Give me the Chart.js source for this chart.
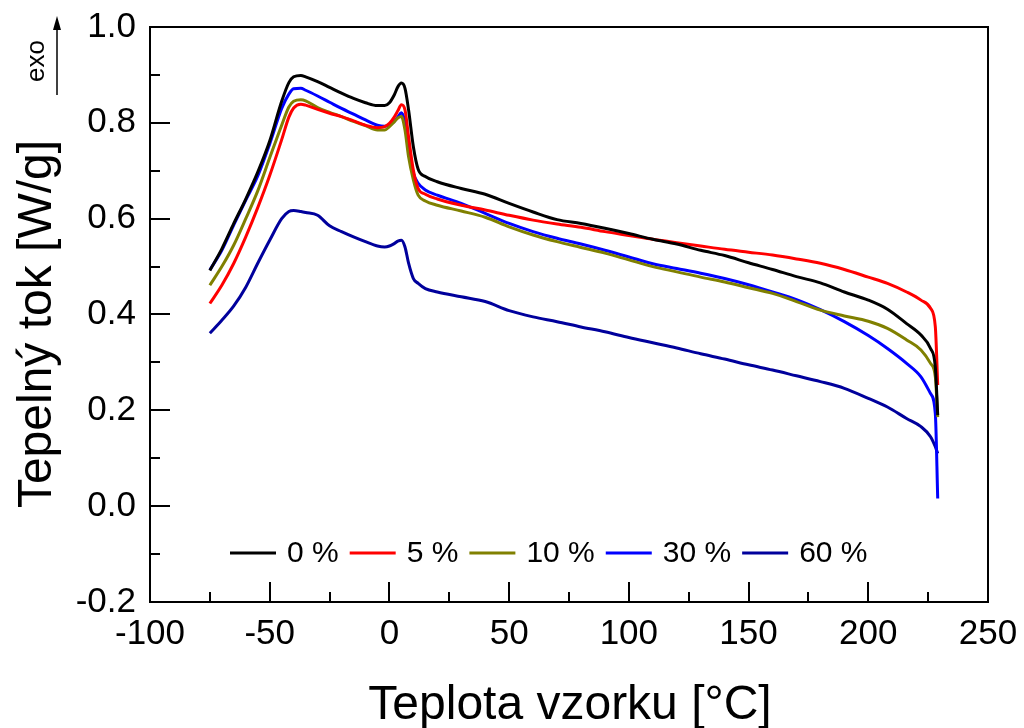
<!DOCTYPE html>
<html>
<head>
<meta charset="utf-8">
<title>DSC</title>
<script src="https://cdn.jsdelivr.net/npm/chart.js@4.4.0/dist/chart.umd.min.js"></script>
<style>
    html, body { margin: 0; padding: 0; background: #fff; }
    canvas { display: block; }
</style>
</head>
<body>
<canvas id="dscChart" width="1024" height="728"></canvas>
<script>
// Temperature grid [°C]
const temps = [-75, -70, -65, -60, -55, -50, -45, -42, -40, -37, -35, -30, -25, -20, -15, -10, -5, -2, 0, 2, 3.5, 5, 6.5, 8, 10, 12, 15, 20, 30, 40, 50, 60, 70, 80, 90, 100, 110, 120, 130, 140, 150, 160, 170, 180, 190, 200, 208, 216, 222, 226, 228, 229];

// Heat flow [W/g]
const flow0 = [0.492, 0.537, 0.590, 0.641, 0.697, 0.762, 0.845, 0.884, 0.896, 0.899, 0.896, 0.886, 0.874, 0.862, 0.851, 0.842, 0.836, 0.836, 0.842, 0.858, 0.875, 0.883, 0.872, 0.827, 0.750, 0.703, 0.688, 0.677, 0.663, 0.651, 0.632, 0.614, 0.598, 0.590, 0.580, 0.569, 0.557, 0.547, 0.534, 0.523, 0.508, 0.494, 0.479, 0.466, 0.447, 0.430, 0.411, 0.381, 0.357, 0.329, 0.290, 0.190];
const flow5 = [0.423, 0.461, 0.507, 0.562, 0.623, 0.690, 0.765, 0.812, 0.831, 0.839, 0.837, 0.828, 0.820, 0.813, 0.804, 0.795, 0.790, 0.792, 0.799, 0.812, 0.825, 0.838, 0.827, 0.771, 0.701, 0.663, 0.651, 0.641, 0.628, 0.618, 0.607, 0.597, 0.589, 0.582, 0.573, 0.565, 0.557, 0.550, 0.543, 0.536, 0.530, 0.524, 0.516, 0.507, 0.494, 0.478, 0.465, 0.447, 0.430, 0.413, 0.374, 0.253];
const flow10 = [0.461, 0.500, 0.545, 0.600, 0.658, 0.727, 0.795, 0.833, 0.845, 0.848, 0.846, 0.832, 0.822, 0.813, 0.803, 0.794, 0.785, 0.785, 0.792, 0.802, 0.810, 0.813, 0.785, 0.729, 0.681, 0.649, 0.637, 0.628, 0.616, 0.603, 0.583, 0.566, 0.552, 0.540, 0.528, 0.514, 0.500, 0.489, 0.478, 0.468, 0.456, 0.444, 0.427, 0.409, 0.397, 0.386, 0.371, 0.347, 0.326, 0.298, 0.270, 0.186];
const flow30 = [0.493, 0.534, 0.587, 0.639, 0.689, 0.756, 0.830, 0.860, 0.871, 0.872, 0.868, 0.856, 0.843, 0.830, 0.818, 0.806, 0.795, 0.793, 0.795, 0.803, 0.812, 0.821, 0.802, 0.750, 0.695, 0.674, 0.660, 0.649, 0.632, 0.611, 0.590, 0.573, 0.559, 0.547, 0.534, 0.520, 0.506, 0.496, 0.486, 0.475, 0.462, 0.447, 0.431, 0.410, 0.385, 0.356, 0.329, 0.298, 0.270, 0.235, 0.193, 0.016];
const flow60 = [0.361, 0.388, 0.418, 0.457, 0.507, 0.555, 0.600, 0.615, 0.617, 0.615, 0.613, 0.607, 0.585, 0.573, 0.562, 0.552, 0.543, 0.541, 0.543, 0.548, 0.553, 0.555, 0.541, 0.507, 0.475, 0.465, 0.454, 0.447, 0.437, 0.427, 0.408, 0.395, 0.385, 0.374, 0.364, 0.352, 0.341, 0.330, 0.318, 0.307, 0.295, 0.284, 0.272, 0.260, 0.246, 0.225, 0.207, 0.183, 0.166, 0.145, 0.124, 0.110];

const seriesLabels = ['0 %', '5 %', '10 %', '30 %', '60 %'];
const seriesColors = ['#000000', '#ff0000', '#808000', '#0000ff', '#00009c'];

const xTicks = [-100, -50, 0, 50, 100, 150, 200, 250];
const yTicks = [-0.2, 0.0, 0.2, 0.4, 0.6, 0.8, 1.0];

const FONT = "'Liberation Sans', Arial, sans-serif";

function toPoints(values) {
    return values.map((v, i) => ({ x: temps[i], y: v }));
}

const allFlows = [flow0, flow5, flow10, flow30, flow60];
const datasets = allFlows.map((vals, i) => ({
    label: seriesLabels[i],
    data: toPoints(vals),
    borderColor: seriesColors[i],
    borderWidth: 3,
    pointRadius: 0,
    fill: false,
    cubicInterpolationMode: 'monotone'
}));

// Frame, inward ticks, axis titles, exo arrow and legend
const decorPlugin = {
    id: 'decor',
    afterDraw(chart) {
        const ctx = chart.ctx;
        const area = chart.chartArea;
        const xs = chart.scales.x;
        const ys = chart.scales.y;
        ctx.save();
        ctx.strokeStyle = '#000';
        ctx.fillStyle = '#000';
        ctx.lineWidth = 2;

        // box
        ctx.strokeRect(area.left, area.top, area.right - area.left, area.bottom - area.top);

        // x ticks (inward, bottom only)
        ctx.beginPath();
        for (let i = 0; i < xTicks.length; i++) {
            const px = Math.round(xs.getPixelForValue(xTicks[i]));
            ctx.moveTo(px, area.bottom);
            ctx.lineTo(px, area.bottom - 20);
            if (i < xTicks.length - 1) {
                const mx = Math.round(xs.getPixelForValue((xTicks[i] + xTicks[i + 1]) / 2));
                ctx.moveTo(mx, area.bottom);
                ctx.lineTo(mx, area.bottom - 10);
            }
        }
        // y ticks (inward, left only)
        for (let i = 0; i < yTicks.length; i++) {
            const py = Math.round(ys.getPixelForValue(yTicks[i]));
            ctx.moveTo(area.left, py);
            ctx.lineTo(area.left + 20, py);
            if (i < yTicks.length - 1) {
                const my = Math.round(ys.getPixelForValue((yTicks[i] + yTicks[i + 1]) / 2));
                ctx.moveTo(area.left, my);
                ctx.lineTo(area.left + 10, my);
            }
        }
        ctx.stroke();

        // axis titles
        ctx.font = '48px ' + FONT;
        ctx.textAlign = 'center';
        ctx.textBaseline = 'alphabetic';
        ctx.fillText('Teplota vzorku [°C]', 570, 719);
        ctx.save();
        ctx.translate(51, 324);
        ctx.rotate(-Math.PI / 2);
        ctx.fillText('Tepelný tok [W/g]', 0, 0);
        ctx.restore();

        // exo arrow
        ctx.save();
        ctx.translate(44, 61);
        ctx.rotate(-Math.PI / 2);
        ctx.font = '26px ' + FONT;
        ctx.fillText('exo', 0, 0);
        ctx.restore();
        ctx.lineWidth = 1.5;
        ctx.beginPath();
        ctx.moveTo(57, 95);
        ctx.lineTo(57, 26);
        ctx.stroke();
        ctx.beginPath();
        ctx.moveTo(57, 16);
        ctx.lineTo(53, 30);
        ctx.lineTo(61, 30);
        ctx.closePath();
        ctx.fill();

        // legend inside plot
        ctx.font = '30px ' + FONT;
        ctx.textAlign = 'left';
        ctx.textBaseline = 'middle';
        const ly = 553;
        let lx = 230;
        chart.data.datasets.forEach(ds => {
            ctx.strokeStyle = ds.borderColor;
            ctx.lineWidth = 3;
            ctx.beginPath();
            ctx.moveTo(lx, ly);
            ctx.lineTo(lx + 46, ly);
            ctx.stroke();
            ctx.fillStyle = '#000';
            ctx.fillText(ds.label, lx + 57, ly + 1);
            lx = lx + 57 + ctx.measureText(ds.label).width + 11;
        });
        ctx.restore();
    }
};

const canvas = document.getElementById('dscChart');
new Chart(canvas, {
    type: 'line',
    data: { datasets: datasets },
    options: {
        responsive: false,
        animation: false,
        devicePixelRatio: 1,
        layout: { padding: { left: 0, right: 36, top: 27, bottom: 0 } },
        plugins: {
            legend: { display: false },
            tooltip: { enabled: false }
        },
        scales: {
            x: {
                type: 'linear',
                min: -100,
                max: 250,
                afterBuildTicks: scale => { scale.ticks = xTicks.map(v => ({ value: v })); },
                afterFit: scale => {
                    scale.height = 126;
                    scale.paddingLeft = 0;
                    scale.paddingRight = 0;
                },
                grid: { display: false, drawTicks: false },
                border: { display: false },
                ticks: {
                    color: '#000',
                    font: { family: FONT, size: 35 },
                    padding: 11,
                    maxRotation: 0,
                    callback: v => String(v)
                }
            },
            y: {
                type: 'linear',
                min: -0.2,
                max: 1.0,
                afterBuildTicks: scale => { scale.ticks = yTicks.map(v => ({ value: v })); },
                afterFit: scale => {
                    scale.width = 150;
                    scale.paddingTop = 0;
                    scale.paddingBottom = 0;
                },
                grid: { display: false, drawTicks: false },
                border: { display: false },
                ticks: {
                    color: '#000',
                    font: { family: FONT, size: 35 },
                    padding: 14,
                    callback: v => v.toFixed(1)
                }
            }
        }
    },
    plugins: [decorPlugin]
});
</script>
</body>
</html>
